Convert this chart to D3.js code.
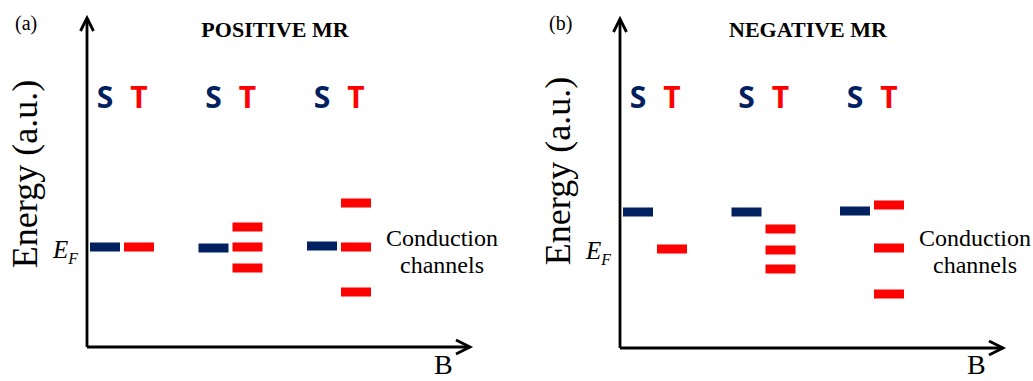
<!DOCTYPE html>
<html>
<head>
<meta charset="utf-8">
<script src="https://cdn.jsdelivr.net/npm/d3@7"></script>
<style>
  html, body { margin: 0; padding: 0; background: #fff; }
</style>
</head>
<body>
<div id="chart"></div>
<script>
// Panel labels and titles
const panelTags = ['(a)', '(b)'];
const panelTitles = ['POSITIVE MR', 'NEGATIVE MR'];

// Magnetic field steps (B) along the x axis
const fieldSteps = [1, 2, 3];

// Energy levels (arbitrary units, E_F = 5)
const singletA = [5, 4.95, 5.05];
const tripletA = [[5], [6, 5, 3.95], [7.2, 5, 2.75]];
const singletB = [6.8, 6.8, 6.85];
const tripletB = [[4.95], [5.95, 4.9, 3.95], [7.15, 5, 2.7]];

const singlets = [singletA, singletB];
const triplets = [tripletA, tripletB];

// Set the dimensions
let svgWidth = 1033;
let svgHeight = 381;
let origins = [{ x: 87, y: 347 }, { x: 620, y: 348 }];
let axisLength = 383;
let barWidth = 30;
let barHeight = 9;
let navy = '#002060';
let red = '#ff0000';
let serif = '"Liberation Serif", "Times New Roman", serif';

let svg = d3.select('#chart')
  .append('svg')
  .attr('width', svgWidth)
  .attr('height', svgHeight)
  .style('display', 'block');

svg.append('rect')
  .attr('width', svgWidth)
  .attr('height', svgHeight)
  .attr('fill', '#fff');

panelTags.forEach((tag, i) => {
  let o = origins[i];
  let g = svg.append('g');

  // Scales: energy up, field steps across
  let y = d3.scaleLinear()
    .domain([0, 10])
    .range([o.y, o.y - 200]);
  let x = d3.scalePoint()
    .domain(fieldSteps)
    .range([o.x + 35, o.x + 252]);

  // Axes with open arrow heads
  let yTop = y(16.45);
  let xEnd = o.x + axisLength;
  g.append('path')
    .attr('d', 'M' + o.x + ',' + o.y + 'V' + yTop + ' M' + xEnd + ',' + o.y + 'H' + o.x)
    .attr('fill', 'none')
    .attr('stroke', '#000')
    .attr('stroke-width', 2.8);
  g.append('path')
    .attr('d', 'M' + (o.x - 6.5) + ',' + (yTop + 13) + 'L' + o.x + ',' + yTop + 'L' + (o.x + 6.5) + ',' + (yTop + 13)
      + ' M' + (xEnd - 14) + ',' + (o.y - 7) + 'L' + xEnd + ',' + o.y + 'L' + (xEnd - 14) + ',' + (o.y + 7))
    .attr('fill', 'none')
    .attr('stroke', '#000')
    .attr('stroke-width', 2.8)
    .attr('stroke-linejoin', 'miter');

  // Singlet bars
  g.selectAll('.singlet')
    .data(fieldSteps.map((b, k) => ({ b: b, e: singlets[i][k] })))
    .enter().append('rect')
    .attr('x', (d) => x(d.b) - 17 - barWidth / 2)
    .attr('y', (d) => y(d.e) - barHeight / 2)
    .attr('width', barWidth)
    .attr('height', barHeight)
    .attr('fill', navy);

  // Triplet bars
  let tripletPts = [];
  fieldSteps.forEach((b, k) => triplets[i][k].forEach((e) => tripletPts.push({ b: b, e: e })));
  g.selectAll('.triplet')
    .data(tripletPts)
    .enter().append('rect')
    .attr('x', (d) => x(d.b) + 17 - barWidth / 2)
    .attr('y', (d) => y(d.e) - barHeight / 2)
    .attr('width', barWidth)
    .attr('height', barHeight)
    .attr('fill', red);

  // S / T labels above each step
  fieldSteps.forEach((b) => {
    g.append('text')
      .attr('x', x(b) - 17)
      .attr('y', 108)
      .attr('text-anchor', 'middle')
      .style('font-family', '"Open Sans", sans-serif')
      .style('font-weight', 700)
      .style('font-size', '30px')
      .attr('fill', navy)
      .text('S');
    g.append('text')
      .attr('x', x(b) + 17)
      .attr('y', 108)
      .attr('text-anchor', 'middle')
      .style('font-family', '"Open Sans", sans-serif')
      .style('font-weight', 700)
      .style('font-size', '30px')
      .attr('fill', red)
      .text('T');
  });

  // Panel tag and title
  g.append('text')
    .attr('x', o.x - 72 + i * 1)
    .attr('y', 30)
    .style('font-family', serif)
    .style('font-size', '20px')
    .text(tag);
  g.append('text')
    .attr('x', o.x + 188)
    .attr('y', 37)
    .attr('text-anchor', 'middle')
    .style('font-family', serif)
    .style('font-weight', 700)
    .style('font-size', '22px')
    .text(panelTitles[i]);

  // Energy axis title
  g.append('text')
    .attr('transform', 'translate(' + (o.x - 50) + ',' + (174 - i * 3) + ') rotate(-90)')
    .attr('text-anchor', 'middle')
    .style('font-family', serif)
    .style('font-size', '36px')
    .text('Energy (a.u.)');

  // Fermi level label
  let ef = g.append('text')
    .attr('x', o.x - 34)
    .attr('y', y(5) + 11)
    .style('font-family', serif)
    .style('font-style', 'italic')
    .style('font-size', '25px');
  ef.append('tspan').text('E');
  ef.append('tspan')
    .attr('dy', 6)
    .style('font-size', '16px')
    .text('F');

  // Field axis label
  g.append('text')
    .attr('x', o.x + 347)
    .attr('y', 374)
    .style('font-family', serif)
    .style('font-size', '28px')
    .text('B');

  // Conduction channels note
  g.append('text')
    .attr('x', o.x + 355)
    .attr('y', 246)
    .attr('text-anchor', 'middle')
    .style('font-family', serif)
    .style('font-size', '24px')
    .text('Conduction');
  g.append('text')
    .attr('x', o.x + 355)
    .attr('y', 273)
    .attr('text-anchor', 'middle')
    .style('font-family', serif)
    .style('font-size', '24px')
    .text('channels');
});
</script>
</body>
</html>
